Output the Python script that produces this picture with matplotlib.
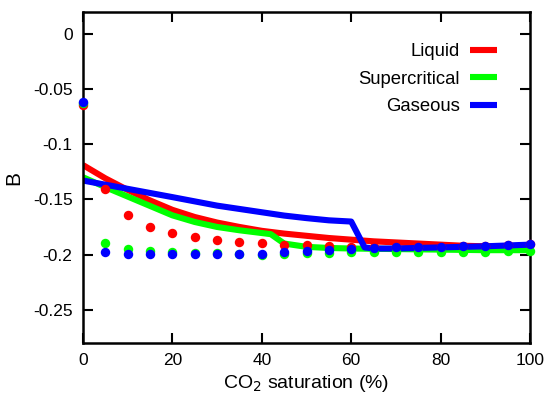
import matplotlib
matplotlib.use("Agg")
import matplotlib.pyplot as plt

plt.rcParams['font.family'] = ['Liberation Sans', 'DejaVu Sans']

# Model curves (solid lines)
liq_x = [0, 5, 10, 15, 20, 25, 30, 35, 40, 45, 50, 55, 60, 65, 70, 75, 80, 85, 90, 95, 100]
liq_y = [-0.119, -0.131, -0.1415, -0.151, -0.1595, -0.166, -0.171, -0.175, -0.1785, -0.181,
         -0.183, -0.185, -0.1865, -0.188, -0.189, -0.190, -0.191, -0.192, -0.1925, -0.193, -0.1935]

sc_x = [0, 5, 10, 15, 20, 25, 30, 35, 40, 42, 45, 50, 55, 60, 70, 80, 90, 100]
sc_y = [-0.130, -0.139, -0.1475, -0.156, -0.1645, -0.1705, -0.175, -0.178, -0.1805, -0.1815,
        -0.190, -0.193, -0.194, -0.1945, -0.195, -0.1955, -0.196, -0.196]

gas_x = [0, 10, 20, 30, 40, 45, 50, 55, 60, 63, 65, 70, 80, 90, 100]
gas_y = [-0.133, -0.1405, -0.148, -0.1557, -0.1617, -0.1647, -0.167, -0.169, -0.1701,
         -0.1935, -0.1945, -0.1945, -0.1935, -0.1925, -0.191]

# Simulation results (dots)
pts_x = [0, 5, 10, 15, 20, 25, 30, 35, 40, 45, 50, 55, 60, 65, 70, 75, 80, 85, 90, 95, 100]
liq_pts = [-0.0643, -0.1408, -0.164, -0.1746, -0.1803, -0.1842, -0.1866, -0.1884, -0.1896,
           -0.191, -0.1917, -0.1925, -0.193, -0.1935, -0.1935, -0.193, -0.1928, -0.1925,
           -0.192, -0.1914, -0.1908]
sc_pts = [-0.063, -0.1893, -0.1947, -0.1965, -0.198, -0.199, -0.199, -0.1995, -0.2001,
          -0.1995, -0.199, -0.1985, -0.198, -0.198, -0.198, -0.198, -0.1978, -0.1977,
          -0.1975, -0.1972, -0.197]
gas_pts = [-0.0619, -0.1977, -0.1992, -0.1995, -0.1995, -0.1995, -0.1995, -0.1995, -0.1995,
           -0.1977, -0.1971, -0.1956, -0.1947, -0.1941, -0.1935, -0.1935, -0.1929, -0.1926,
           -0.192, -0.1914, -0.1908]

labels = ["Liquid", "Supercritical", "Gaseous"]
colors = ["#ff0000", "#00ff00", "#0000ff"]

x_ticks = [0, 20, 40, 60, 80, 100]
y_ticks = [0, -0.05, -0.1, -0.15, -0.2, -0.25]
y_ticklabels = ["0", "-0.05", "-0.1", "-0.15", "-0.2", "-0.25"]

fig = plt.figure(figsize=(5.49, 3.98), dpi=100)
ax = fig.add_axes([0.1512, 0.1382, 0.8142, 0.8316])

for xs, ys, c, lab in zip([liq_x, sc_x, gas_x], [liq_y, sc_y, gas_y], colors, labels):
    ax.plot(xs, ys, color=c, lw=4.4, label=lab, solid_capstyle='butt', zorder=2)

for ys, c in zip([liq_pts, sc_pts, gas_pts], colors):
    ax.plot(pts_x, ys, 'o', color=c, ms=6.8, mec='none', zorder=3, clip_on=False)

ax.set_xlim(0, 100)
ax.set_ylim(-0.28, 0.0195)
ax.set_xticks(x_ticks)
ax.set_xticklabels([str(v) for v in x_ticks])
ax.set_yticks(y_ticks)
ax.set_yticklabels(y_ticklabels)
ax.tick_params(direction='in', length=7, width=1.5, labelsize=12.5, top=True, right=True,
               pad=7.5)
for s in ax.spines.values():
    s.set_linewidth(1.8)

ax.set_xlabel("CO$_2$ saturation (%)", fontsize=14, labelpad=3)
ax.set_ylabel("B", fontsize=15, labelpad=7)

leg = ax.legend(loc='upper right', bbox_to_anchor=(0.926, 0.906), frameon=False,
                fontsize=13.3, markerfirst=False, handlelength=1.46, handletextpad=0.55,
                labelspacing=0.57, borderpad=0, borderaxespad=0)
for t in leg.get_texts():
    t.set_ha('right')

fig.savefig("out.png", dpi=100)
